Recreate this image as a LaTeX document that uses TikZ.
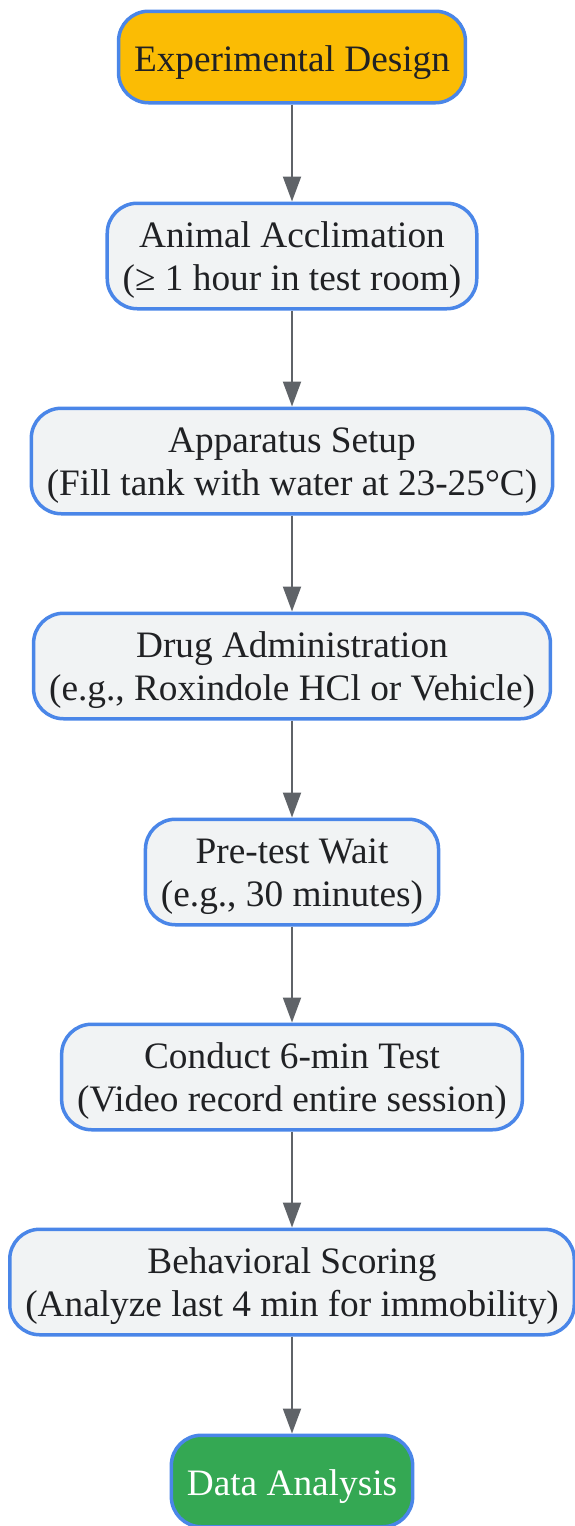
\documentclass[tikz,border=0pt]{standalone}
\usepackage{fontspec}
\setmainfont{Liberation Serif}
\usetikzlibrary{arrows.meta}
\definecolor{stepblue}{HTML}{4A86E8}
\definecolor{stepgray}{HTML}{F1F3F4}
\definecolor{startyellow}{HTML}{FBBC04}
\definecolor{endgreen}{HTML}{34A853}
\definecolor{arrowgray}{HTML}{5F6368}
\definecolor{textdark}{HTML}{202124}
\begin{document}
\begin{tikzpicture}[x=1pt, y=-1pt,
  stepbox/.style={draw=stepblue, line width=3.5pt, rounded corners=30pt, fill=stepgray,
    text=textdark, align=center, inner xsep=15.5pt, inner ysep=0pt,
    text height=80pt, text depth=12pt, minimum height=105.5pt,
    font=\fontsize{37.3}{42.5}\selectfont},
  startbox/.style={stepbox, fill=startyellow, text height=37pt, text depth=9pt, minimum height=91.5pt},
  endbox/.style={startbox, fill=endgreen, text=white},
  flow/.style={draw=arrowgray, line width=2pt, -{Triangle[length=25pt, width=18pt]}}]
  \useasboundingbox (0, 0) rectangle (574, 1526);

  % Start.
  \node[startbox] (design) at (292, 57) {Experimental Design};
  % Steps.
  \node[stepbox] (acclim) at (292, 256) {Animal Acclimation\\(≥ 1 hour in test room)};
  \node[stepbox] (setup) at (292, 461) {Apparatus Setup\\(Fill tank with water at 23-25°C)};
  \node[stepbox] (drug) at (292, 666) {Drug Administration\\(e.g., Roxindole HCl or Vehicle)};
  \node[stepbox] (wait) at (292, 872) {Pre-test Wait\\(e.g., 30 minutes)};
  \node[stepbox] (test) at (292, 1077) {Conduct 6-min Test\\(Video record entire session)};
  \node[stepbox] (scoring) at (292, 1282) {Behavioral Scoring\\(Analyze last 4 min for immobility)};
  % End.
  \node[endbox] (analysis) at (292, 1481) {Data Analysis};

  % Arrows between steps.
  \draw[flow] (design) -- (acclim);
  \draw[flow] (acclim) -- (setup);
  \draw[flow] (setup) -- (drug);
  \draw[flow] (drug) -- (wait);
  \draw[flow] (wait) -- (test);
  \draw[flow] (test) -- (scoring);
  \draw[flow] (scoring) -- (analysis);
\end{tikzpicture}
\end{document}
